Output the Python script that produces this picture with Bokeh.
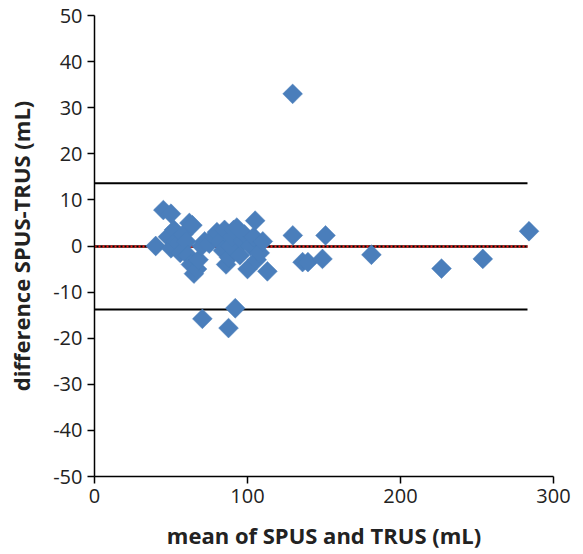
import math
from bokeh.plotting import figure
from bokeh.models import ColumnDataSource, Range1d, FixedTicker, PrintfTickFormatter
from bokeh.embed import file_html
from bokeh.resources import INLINE

# Bland-Altman data: mean of SPUS and TRUS (mL) vs difference SPUS-TRUS (mL)
mean_vals = [40, 45, 50, 48, 52, 50, 53, 55, 56, 58, 60, 62, 64, 61, 63, 65, 67, 68,
             70, 72, 75, 78, 80, 82, 84, 85, 86, 88, 89, 90, 91, 93, 95, 97, 98, 100,
             102, 104, 105, 106, 108, 110, 113,
             70.5, 92, 87.6,
             129.5, 129.6, 136, 139.5, 149, 151, 181, 226.8, 253.8, 284]
diff_vals = [0, 7.8, 7, 2, 3.5, -0.5, 1, 0.5, -1.5, 2.5, 1, 5, 4.5, -2, -4, -6, -5, -3,
             0, 1, 0.5, 2, 3, 1, -1, 3.5, -4, -2.5, 0, 2, 3.5, 4, -2, 1, 2.5, -5,
             0, 2, 5.5, -3, -1.5, 1, -5.5,
             -15.8, -13.5, -17.8,
             33, 2.3, -3.5, -3.5, -2.8, 2.3, -1.9, -4.9, -2.8, 3.2]
mean_diff = -0.1
upper_loa = 13.6
lower_loa = -13.8
x_ticks = [0, 100, 200, 300]
y_ticks = [-50, -40, -30, -20, -10, 0, 10, 20, 30, 40, 50]

p = figure(width=575, height=553, output_backend="svg", toolbar_location=None,
           x_range=Range1d(0, 300), y_range=Range1d(-50, 50),
           min_border_left=94, min_border_right=22, min_border_top=15, min_border_bottom=77)
p.outline_line_color = None
p.xgrid.grid_line_color = None
p.ygrid.grid_line_color = None

x_end = max(mean_vals) - 1
p.line([0, x_end], [upper_loa, upper_loa], line_color="black", line_width=2)
p.line([0, x_end], [lower_loa, lower_loa], line_color="black", line_width=2)
p.line([0, x_end], [mean_diff, mean_diff], line_color="black", line_width=2.5)
p.line([0, x_end], [mean_diff, mean_diff], line_color="#e8201b", line_width=2.5, line_dash="2 2")

src = ColumnDataSource(dict(x=mean_vals, y=diff_vals))
p.scatter("x", "y", source=src, marker="square", size=14, angle=math.pi / 4,
          fill_color="#4a7ebb", line_color="#4a7ebb", line_width=0.5)

for ax in (p.xaxis[0], p.yaxis[0]):
    ax.axis_line_width = 1.5
    ax.axis_line_color = "black"
    ax.major_tick_line_color = "black"
    ax.major_tick_line_width = 1.5
    ax.major_tick_out = 7
    ax.major_tick_in = 0
    ax.minor_tick_line_color = None
    ax.major_label_text_font = "Open Sans"
    ax.major_label_text_font_size = "20px"
    ax.major_label_text_color = "#222222"
    ax.axis_label_text_font = "Open Sans"
    ax.axis_label_text_font_size = "22px"
    ax.axis_label_text_font_style = "bold"
    ax.axis_label_text_color = "#222222"
    ax.formatter = PrintfTickFormatter(format="%d")

p.xaxis.ticker = FixedTicker(ticks=x_ticks)
p.yaxis.ticker = FixedTicker(ticks=y_ticks)
p.xaxis.axis_label = "mean of SPUS and TRUS (mL)"
p.yaxis.axis_label = "difference SPUS-TRUS (mL)"
p.xaxis.major_label_standoff = 5
p.xaxis.axis_label_standoff = 14
p.yaxis.major_label_standoff = 5
p.yaxis.axis_label_standoff = 14

open("out.html", "w").write(file_html(p, INLINE))
